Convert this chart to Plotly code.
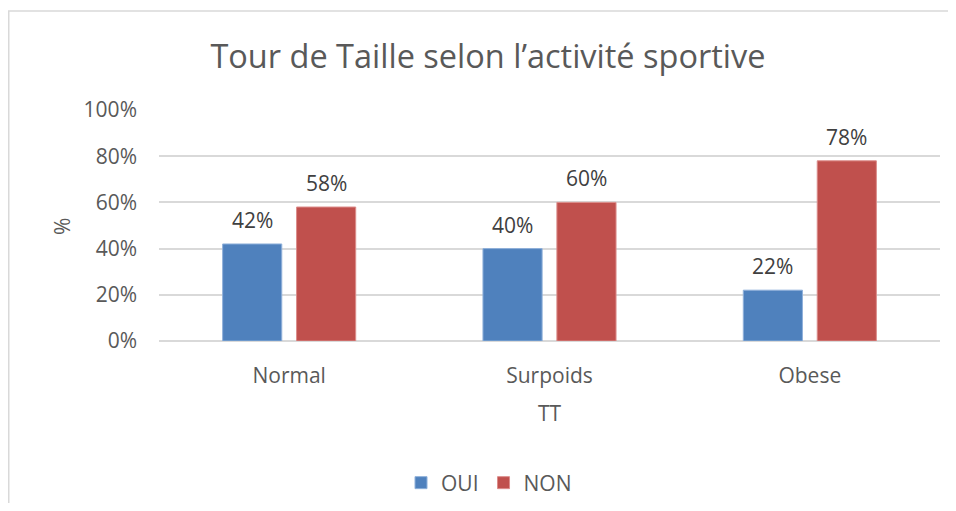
import plotly.graph_objs as go

# Tour de taille (TT) par activité sportive
categories = ['Normal', 'Surpoids', 'Obese']
oui = [42, 40, 22]
non = [58, 60, 78]
y_ticks = [0, 20, 40, 60, 80, 100]
y_tick_labels = ['0%', '20%', '40%', '60%', '80%', '100%']

blue = '#4f81bd'
red = '#c0504d'
txt = '#595959'
font_family = 'Open Sans'

fig = go.Figure()
fig.add_trace(go.Bar(x=categories, y=oui, name='OUI', marker=dict(color=blue, line=dict(color='#8fb0da', width=1))))
fig.add_trace(go.Bar(x=categories, y=non, name='NON', marker=dict(color=red, line=dict(color='#dc8d8b', width=1))))

# data labels above each bar
slot_px = 37
for vals, shift in ((oui, -slot_px), (non, slot_px)):
    for c, v in zip(categories, vals):
        fig.add_annotation(x=c, y=v, text=f'{v}%', showarrow=False, xshift=shift, yshift=24,
                           yanchor='middle', font=dict(size=21, color='#404040', family=font_family))

# axis titles
fig.add_annotation(x=-0.1242, y=0.498, xref='paper', yref='paper', text='%', textangle=-90, showarrow=False,
                   xanchor='center', yanchor='middle', font=dict(size=21, color=txt, family=font_family))
fig.add_annotation(x=0.5, y=-0.3117, xref='paper', yref='paper', text='TT', showarrow=False,
                   xanchor='center', yanchor='middle', font=dict(size=21, color=txt, family=font_family))

# outer frame of the chart object
fig.add_shape(type='rect', xref='paper', yref='paper', x0=-0.1924, y0=-1.5, x1=1.3, y1=1.4286,
              line=dict(color='#d9d9d9', width=1.5), layer='below')

fig.update_layout(
    title=dict(text='Tour de Taille selon l’activité sportive', x=0.5063, xref='container', xanchor='center',
               y=1 - 49 / 495, yref='container', yanchor='middle',
               font=dict(size=32.5, color=txt, family=font_family)),
    barmode='group',
    bargap=0.432,
    bargroupgap=0.2,
    width=948,
    height=495,
    margin=dict(l=151, r=16, t=102, b=162),
    plot_bgcolor='white',
    paper_bgcolor='white',
    font=dict(family=font_family, color=txt, size=21),
    showlegend=True,
    legend=dict(orientation='h', xref='container', yref='container', x=0.5074, xanchor='center',
                y=0.0404, yanchor='middle', font=dict(size=21, color=txt)),
    xaxis=dict(showgrid=False, showline=False, ticks='', ticklabelstandoff=20,
               tickfont=dict(size=21, color=txt)),
    yaxis=dict(range=[0, 100], tickmode='array', tickvals=y_ticks, ticktext=y_tick_labels,
               showgrid=True, gridcolor='#d9d9d9', gridwidth=1.5, zeroline=True, zerolinecolor='#d9d9d9',
               zerolinewidth=1.5, showline=False, ticks='', ticklabelstandoff=21,
               tickfont=dict(size=21, color=txt)),
    modebar=dict(bgcolor='rgba(0,0,0,0)', color='rgba(0,0,0,0)', activecolor='rgba(0,0,0,0)'),
)

fig.write_html('out.html')
